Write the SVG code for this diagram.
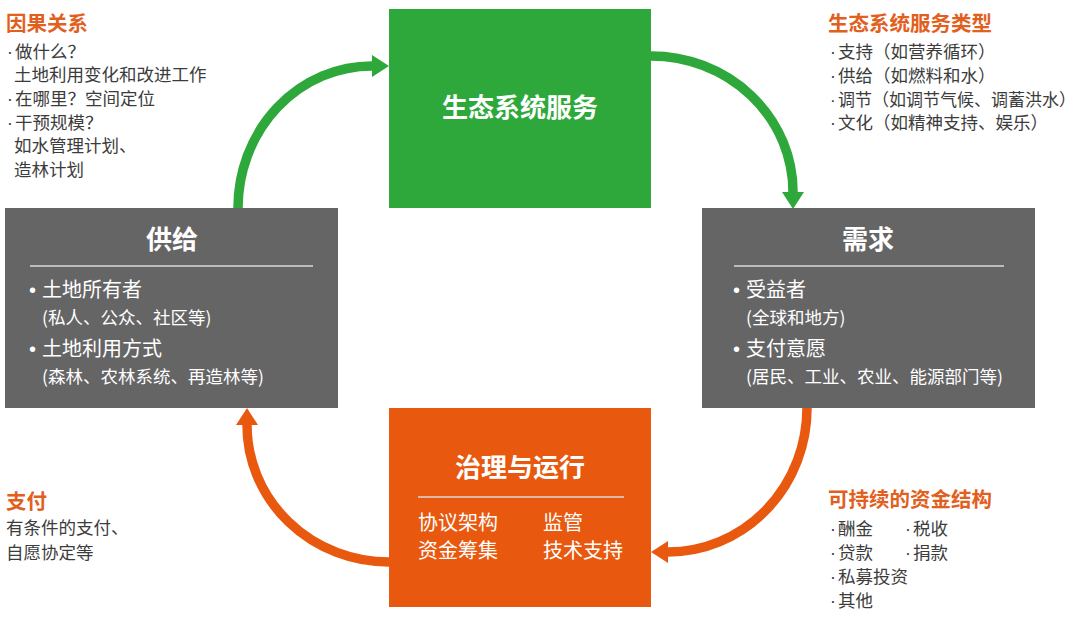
<svg xmlns="http://www.w3.org/2000/svg" width="1080" height="618" viewBox="0 0 1080 618">
<style>
text{font-family:"Noto Sans CJK SC","Noto Sans",sans-serif;}
.d{font-family:"Liberation Sans",sans-serif;}
.title{fill:#fff;font-size:26px;font-weight:700;text-anchor:middle;}
.item{fill:#fff;font-size:20px;}
.sub{fill:#fff;font-size:17.5px;}
.head{fill:#e2601e;font-size:20.5px;font-weight:700;}
.note{fill:#3c3c3c;font-size:17.5px;}
.div{stroke:#d8d8d8;stroke-width:1.5;}
.ga{fill:none;stroke:#2ea83a;stroke-width:9.5;}
.oa{fill:none;stroke:#e8590f;stroke-width:9.5;}
</style>
<rect width="1080" height="618" fill="#fff"/>
<g id="connectors">
<path class="ga" d="M238 208 A134 142 0 0 1 372 66"/>
<polygon points="372,55 389,66 372,77" fill="#2ea83a"/>
<path class="ga" d="M651 56 A142 136 0 0 1 793 192"/>
<polygon points="782,192 804,192 793,209" fill="#2ea83a"/>
<path class="oa" d="M807 408 A139 144 0 0 1 668 552"/>
<polygon points="668,541 668,563 651,552" fill="#e8590f"/>
<path class="oa" d="M389 562 A142 137 0 0 1 247 425"/>
<polygon points="236,425 258,425 247,408" fill="#e8590f"/>
</g>
<g id="ecosystem-services">
<rect x="389" y="9" width="262" height="199" fill="#2ea83a"/>
<text class="title" x="520" y="117">生态系统服务</text>
</g>
<g id="supply">
<rect x="5" y="208" width="333" height="200" fill="#666566"/>
<text class="title" x="172" y="249">供给</text>
<line class="div" x1="30" y1="266" x2="313" y2="266"/>
<text class="item" y="297"><tspan class="d" x="29">•</tspan><tspan x="42">土地所有者</tspan></text>
<text class="sub" x="42" y="324">(私人、公众、社区等)</text>
<text class="item" y="356"><tspan class="d" x="29">•</tspan><tspan x="42">土地利用方式</tspan></text>
<text class="sub" x="42" y="383">(森林、农林系统、再造林等)</text>
</g>
<g id="demand">
<rect x="702" y="208" width="333" height="200" fill="#666566"/>
<text class="title" x="868" y="249">需求</text>
<line class="div" x1="734" y1="266" x2="1004" y2="266"/>
<text class="item" y="297"><tspan class="d" x="733">•</tspan><tspan x="746">受益者</tspan></text>
<text class="sub" x="746" y="324">(全球和地方)</text>
<text class="item" y="356"><tspan class="d" x="733">•</tspan><tspan x="746">支付意愿</tspan></text>
<text class="sub" x="746" y="383">(居民、工业、农业、能源部门等)</text>
</g>
<g id="governance">
<rect x="389" y="408" width="262" height="199" fill="#e8590f"/>
<text class="title" x="520" y="477">治理与运行</text>
<line class="div" x1="418" y1="497" x2="624" y2="497"/>
<text class="item" x="418" y="530">协议架构</text>
<text class="item" x="543" y="530">监管</text>
<text class="item" x="418" y="558">资金筹集</text>
<text class="item" x="543" y="558">技术支持</text>
</g>
<g id="causality">
<text class="head" x="6" y="31">因果关系</text>
<text class="note" y="58"><tspan class="d" x="7">·</tspan><tspan x="15">做什么？</tspan></text>
<text class="note" x="14" y="81">土地利用变化和改进工作</text>
<text class="note" y="105"><tspan class="d" x="7">·</tspan><tspan x="15">在哪里？空间定位</tspan></text>
<text class="note" y="129"><tspan class="d" x="7">·</tspan><tspan x="15">干预规模？</tspan></text>
<text class="note" x="14" y="152">如水管理计划、</text>
<text class="note" x="14" y="176">造林计划</text>
</g>
<g id="service-types">
<text class="head" x="828" y="31">生态系统服务类型</text>
<text class="note" y="58"><tspan class="d" x="830">·</tspan><tspan x="838">支持（如营养循环）</tspan></text>
<text class="note" y="82"><tspan class="d" x="830">·</tspan><tspan x="838">供给（如燃料和水）</tspan></text>
<text class="note" y="106" style="font-size:17px"><tspan class="d" x="830">·</tspan><tspan x="838">调节（如调节气候、调蓄洪水）</tspan></text>
<text class="note" y="129"><tspan class="d" x="830">·</tspan><tspan x="838">文化（如精神支持、娱乐）</tspan></text>
</g>
<g id="payment">
<text class="head" x="6" y="509">支付</text>
<text class="note" x="6" y="534">有条件的支付、</text>
<text class="note" x="6" y="559">自愿协定等</text>
</g>
<g id="funding">
<text class="head" x="828" y="507">可持续的资金结构</text>
<text class="note" y="535"><tspan class="d" x="830">·</tspan><tspan x="838">酬金</tspan></text>
<text class="note" y="535"><tspan class="d" x="905">·</tspan><tspan x="913">税收</tspan></text>
<text class="note" y="559"><tspan class="d" x="830">·</tspan><tspan x="838">贷款</tspan></text>
<text class="note" y="559"><tspan class="d" x="905">·</tspan><tspan x="913">捐款</tspan></text>
<text class="note" y="583"><tspan class="d" x="830">·</tspan><tspan x="838">私募投资</tspan></text>
<text class="note" y="607"><tspan class="d" x="830">·</tspan><tspan x="838">其他</tspan></text>
</g>
</svg>
